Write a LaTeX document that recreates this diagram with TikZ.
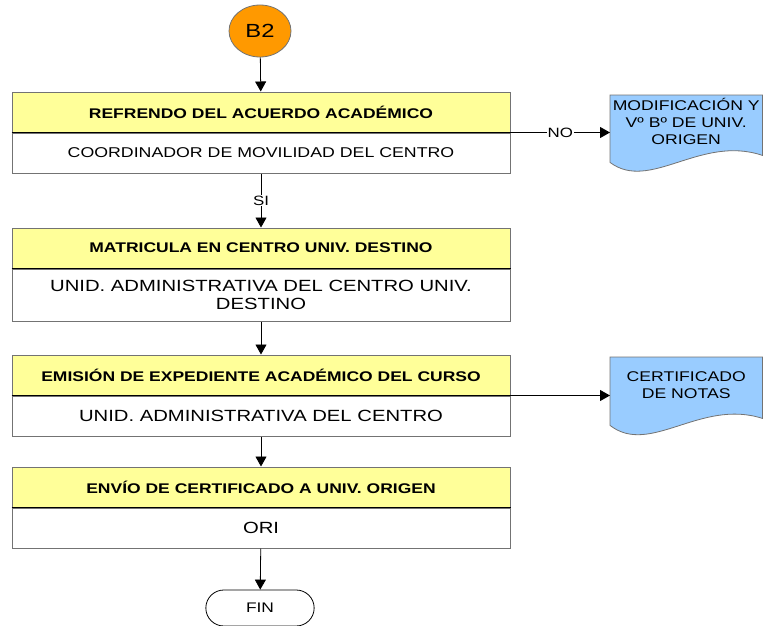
\documentclass[tikz,border=0pt]{standalone}
\usepackage{fontspec}
\setmainfont{Liberation Sans}[FakeStretch=1.25]
\usepackage{tikz}
\usetikzlibrary{shapes,calc,positioning,arrows.meta,backgrounds}
\definecolor{hdryellow}{RGB}{255,255,153}
\definecolor{docblue}{RGB}{153,204,255}
\definecolor{conorange}{RGB}{255,153,0}
\definecolor{boxgray}{RGB}{115,115,115}

\begin{document}
\begin{tikzpicture}[x=1pt, y=-1pt,
      header/.style={rectangle, draw=boxgray, line width=1pt, fill=hdryellow, minimum width=498pt, minimum height=40pt, inner sep=0pt, font=\fontsize{14}{17}\selectfont\bfseries},
      resp/.style={rectangle, draw=boxgray, line width=1pt, fill=white, minimum width=498pt, minimum height=40pt, inner sep=0pt, align=center, font=\fontsize{16.2}{18.5}\selectfont},
      docnode/.style={rectangle, minimum width=152pt, inner sep=0pt, anchor=north west, align=center, font=\fontsize{14.1}{17}\selectfont},
      docshape/.style={draw=boxgray, line width=0.8pt, fill=docblue},
      flow/.style={-{Triangle[length=10pt,width=11pt]}, line width=0.8pt},
      lbl/.style={fill=white, inner sep=1pt, font=\fontsize{13.5}{16}\selectfont}]
    \useasboundingbox (0,0) rectangle (763,626);

    \node (b2) [ellipse, draw=boxgray, line width=0.8pt, fill=conorange, minimum width=62pt, minimum height=52pt, inner sep=0pt, font=\fontsize{19}{22}\selectfont] at (260,31) {B2};

    \node (refrendo) [header] at (261,112) {REFRENDO DEL ACUERDO ACADÉMICO};
    \node (refrendoresp) [resp, below=0pt of refrendo, font=\fontsize{14.2}{17}\selectfont] {COORDINADOR DE MOVILIDAD DEL CENTRO};
    \node (matricula) [header] at (261,248) {MATRICULA EN CENTRO UNIV. DESTINO};
    \node (matricularesp) [resp, below=0pt of matricula, minimum height=52pt] {UNID. ADMINISTRATIVA DEL CENTRO UNIV.\\DESTINO};
    \node (emision) [header] at (261,375) {EMISIÓN DE EXPEDIENTE ACADÉMICO DEL CURSO};
    \node (emisionresp) [resp, below=0pt of emision] {UNID. ADMINISTRATIVA DEL CENTRO};
    \node (envio) [header] at (261,487) {ENVÍO DE CERTIFICADO A UNIV. ORIGEN};
    \node (envioresp) [resp, below=0pt of envio] {ORI};

    \foreach \respbox in {refrendoresp, matricularesp, emisionresp, envioresp}
      \draw[line width=0.8pt] (\respbox.north west) -- (\respbox.north east);

    \node (modif) [docnode, minimum height=53pt] at (610,95) {MODIFICACIÓN Y\\Vº Bº DE UNIV.\\ORIGEN};
    \node (certif) [docnode, minimum height=55pt] at (610,357) {CERTIFICADO\\DE NOTAS};
    \begin{scope}[on background layer]
      \foreach \doc/\dl/\dr in {modif/14/7, certif/13/6}
        \path[docshape] (\doc.north west) -- (\doc.north east) -- ($(\doc.south east)+(0,\dr)$)
          .. controls ($(\doc.south east)+(-62,-14)$) and ($(\doc.south west)+(40,44)$) .. ($(\doc.south west)+(0,\dl)$) -- cycle;
    \end{scope}

    \node (fin) [rounded rectangle, draw, line width=0.8pt, fill=white, minimum width=115pt, minimum height=36pt, font=\fontsize{13.9}{16}\selectfont] at (260,608) {FIN};

    \draw[flow] (b2) -- (refrendo);
    \draw[flow] (refrendoresp) -- node[lbl] {SI} (matricula);
    \draw[flow] (matricularesp) -- (emision);
    \draw[flow] (emisionresp) -- (envio);
    \draw[flow] (envioresp) -- (fin);
    \draw[flow] (refrendo.south east) -- node[lbl] {NO} (refrendo.south east -| modif.west);
    \draw[flow] (emision.south east) -- (emision.south east -| certif.west);
  \end{tikzpicture}
\end{document}
